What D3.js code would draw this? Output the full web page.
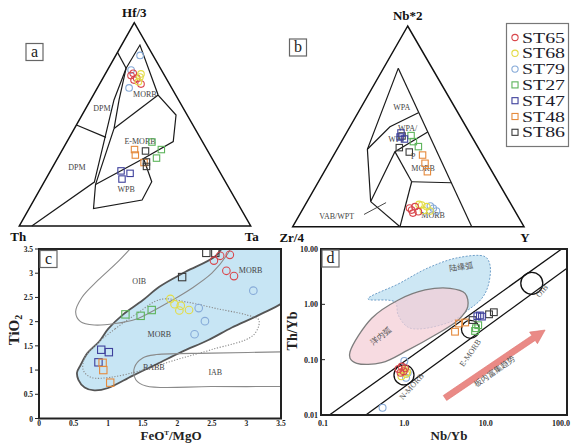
<!DOCTYPE html>
<html><head><meta charset="utf-8">
<script src="https://cdn.jsdelivr.net/npm/d3@7/dist/d3.min.js"></script>
<style>html,body{margin:0;padding:0;background:#fff}svg{display:block}</style>
</head><body>
<svg id="chart" width="571" height="443"></svg>
<script>
// ---------- sample groups ----------
const samples = ["ST65","ST68","ST79","ST27","ST47","ST48","ST86"];
const sampleColors = ["#d9474c","#e3dc45","#86aad8","#5db45b","#3e409c","#e58a3c","#3b3b3b"];
const sampleShapes = ["circle","circle","circle","square","square","square","square"];

// ---------- (a) Hf/3 - Th - Ta : [sample, Hf/3, Th, Ta] (%) ----------
const pointsA = [
  ["ST79",83.9,5.6,10.5],["ST79",76.7,13.1,10.2],["ST79",67.9,18.4,13.7],
  ["ST65",75.1,13.0,11.9],["ST65",72.7,12.7,14.6],["ST65",71.8,14.3,13.9],["ST65",69.8,12.3,17.9],["ST65",74.0,14.5,11.5],
  ["ST68",73.3,11.0,15.7],["ST68",71.0,12.8,16.2],["ST68",74.8,9.8,15.4],
  ["ST48",37.6,31.3,31.1],["ST48",34.9,32.3,32.8],["ST48",31.2,30.4,38.4],
  ["ST86",36.9,26.9,36.2],["ST86",31.5,29.2,39.3],["ST86",29.3,30.3,40.4],
  ["ST27",41.3,21.9,36.8],["ST27",37.6,19.7,42.7],["ST27",33.4,23.9,42.7],
  ["ST47",27.1,42.4,30.5],["ST47",25.9,39.1,35.0],["ST47",23.1,44.0,32.9]
];
// field boundaries, vertices as [Hf/3, Th, Ta]
const fieldLinesA = [
  [[85.4,14.6,0],[77.6,14.8,7.6]],
  [[77.6,14.8,7.6],[89,3.1,7.9],[64.4,7.6,28],[54.6,4.8,40.6],[41.5,12.6,45.9],[33.2,29.6,37.2],[20.4,56.8,22.8]],
  [[77.6,14.8,7.6],[62,27.9,10.1],[21.6,56.7,21.7],[0,94.6,5.4]],
  [[64.4,7.6,28],[48,34.9,17.1]],
  [[77.6,14.8,7.6],[62,25.7,12.3],[48,34.9,17.1],[20.4,56.8,22.8],[8.6,63.6,27.8],[12.8,40.5,46.7],[21.8,31.8,46.4],[33.2,29.6,37.2]],
  [[49.7,50.3,0],[43.6,40.6,15.8]]
];
const fieldLabelsA = [["DPM",58,35.1,6.9],["DPM",29,60.5,10.5],["MORB",64.9,13.1,22],["E-MORB",41.8,26.8,31.4],["WPB",18.2,44.7,37.1]];

// ---------- (b) Nb*2 - Zr/4 - Y : [sample, Nb*2, Zr/4, Y] (%) ----------
const pointsB = [
  ["ST86",39.4,34.1,26.5],["ST86",37.2,30.9,31.9],["ST86",45.2,30.0,24.8],
  ["ST27",42.4,26.5,31.1],["ST27",39.9,25.6,34.5],["ST27",45.4,26.0,28.6],
  ["ST47",44.7,31.1,24.2],["ST47",43.7,29.7,26.6],["ST47",46.7,29.7,23.6],
  ["ST48",35.7,25.9,38.4],["ST48",31.6,26.9,41.5],["ST48",27.4,28.0,44.6],
  ["ST79",9.2,34.6,56.2],["ST79",7.8,33.9,58.3],["ST79",10.3,35.3,54.4],
  ["ST68",10.8,38.8,50.4],["ST68",10.0,37.0,53.0],["ST68",8.1,39.4,52.5],["ST68",7.8,36.7,55.5],["ST68",11.1,39.8,49.1],
  ["ST65",8.3,44.4,47.3],["ST65",10.0,42.1,47.9],["ST65",7.5,41.9,50.6],["ST65",6.8,44.6,48.6],["ST65",9.3,44.8,45.9]
];
const fieldLinesB = [
  [[78.9,14.7,6.4],[0,22.6,77.4]],
  [[78.9,14.7,6.4],[38.6,48.3,13.1],[12.5,60,27.5]],
  [[56.8,17.1,26.1],[49.8,32.9,17.3],[38.6,48.3,13.1]],
  [[47.2,17.9,34.9],[37.4,37.0,25.6],[12.5,60,27.5]],
  [[37.4,37.0,25.6],[22.4,37.3,40.3]],
  [[22.4,37.3,40.3],[21.9,20.4,57.7]],
  [[22.4,37.3,40.3],[0,53.6,46.4]],
  [[12.5,60,27.5],[0,53.6,46.4]]
];
const fieldLabelsB = [["WPA",59.5,22.9,17.6],["WPA/",49,25.7,25.3],["WPT",43.5,33.2,23.3],["P",35.2,30.2,34.6],["MORB",29.1,29,41.9],["MORB",5.8,36.4,57.8],["VAB/WPT",5.1,78.4,16.5]];
const pointerB = [[6.1,66.1,27.8],[12,53.6,34.4]];

// ---------- (c) FeOT/MgO vs TiO2 ----------
const pointsC = [
  ["ST86",2.42,3.42],["ST86",2.55,3.42],["ST86",2.07,2.92],
  ["ST65",2.53,3.26],["ST65",2.62,3.36],["ST65",2.76,3.38],["ST65",2.71,3.05],["ST65",2.82,2.94],
  ["ST68",1.90,2.47],["ST68",1.96,2.36],["ST68",2.05,2.33],["ST68",2.03,2.23],["ST68",2.17,2.24],
  ["ST79",2.31,2.28],["ST79",2.40,2.01],["ST79",2.25,1.74],["ST79",3.10,2.64],
  ["ST27",1.25,2.15],["ST27",1.47,2.12],["ST27",1.63,2.24],
  ["ST47",0.90,1.42],["ST47",1.01,1.37],["ST47",0.86,1.16],
  ["ST48",0.92,1.15],["ST48",0.93,1.00],["ST48",1.03,0.74]
];
const ticksC = [0,0.5,1,1.5,2,2.5,3,3.5];
const morbFieldC = [[0.57,0.8],[0.66,0.64],[0.80,0.58],[1.0,0.63],[1.35,0.88],[1.7,1.12],[2.07,1.38],[2.45,1.62],[2.79,1.88],[3.2,2.15],[3.6,2.48],[3.75,3.0],[3.7,3.7],[2.8,3.75],[2.55,3.35],[2.12,3.03],[1.74,2.72],[1.5,2.44],[1.21,2.14],[1.0,1.85],[0.87,1.59],[0.7,1.35],[0.6,1.1],[0.55,0.95]];
const oibFieldC = [[1.38,3.6],[1.15,3.25],[0.85,2.85],[0.62,2.5],[0.53,2.2],[0.6,2.0],[0.8,1.93],[1.1,1.96],[1.4,2.05],[1.62,2.2],[1.9,2.42],[2.2,2.68],[2.5,3.0],[2.72,3.38],[2.8,3.6]];
const babbFieldC = [[0.84,1.55],[1.1,1.85],[1.4,2.15],[1.76,2.46],[2.15,2.4],[2.6,2.26],[3.0,2.14],[3.18,2.03],[3.1,1.72],[2.49,1.42],[2.0,1.22],[1.5,1.0],[1.03,0.85],[0.75,0.85],[0.64,1.0],[0.66,1.25]];
const iabFieldC = [[3.7,1.38],[2.5,1.35],[1.7,1.32],[1.5,1.25],[1.38,1.05],[1.4,0.8],[1.55,0.67],[2.5,0.66],[3.7,0.66]];
const fieldLabelsC = [["OIB",1.45,2.84],["MORB",3.06,3.07],["MORB",1.74,1.74],["BABB",1.66,1.07],["IAB",2.55,0.955]];

// ---------- (d) Nb/Yb vs Th/Yb ----------
const pointsD = [
  ["ST48",4.2,0.32],["ST48",4.7,0.45],["ST48",5.6,0.47],
  ["ST27",7.4,0.33],["ST27",8.1,0.42],["ST27",7.6,0.37],
  ["ST86",6.9,0.52],["ST86",11,0.66],["ST86",12.6,0.72],
  ["ST47",7.9,0.61],["ST47",9.0,0.60],["ST47",8.5,0.63],
  ["ST79",0.54,0.0135],["ST79",1.0,0.095],["ST79",1.1,0.058],["ST79",1.05,0.047],
  ["ST68",0.95,0.060],["ST68",1.05,0.055],["ST68",1.0,0.065],["ST68",0.92,0.050],["ST68",1.08,0.060],
  ["ST65",0.85,0.068],["ST65",0.93,0.075],["ST65",0.98,0.062],["ST65",0.90,0.058],["ST65",1.02,0.070]
];
const ticksDX = [0.1,1,10,100];
const tickLabelsDX = ["0.1","1.0","10.0","100.0"];
const ticksDY = [0.01,0.1,1,10];
const tickLabelsDY = ["0.01","0.10","1.00","10.00"];
const arrayLinesD = [[[0.12,0.01],[86,10]],[[0.336,0.01],[100,4.5]]];
const refCirclesD = [["N-MORB",0.99,0.053,10],["E-MORB",6.5,0.354,9],["OIB",36.9,2.4,11]];
const oceanArcD = [[0.215,0.139],[0.397,0.56],[0.844,1.2],[1.80,1.82],[3.65,1.95],[5.58,1.58],[6.03,0.906],[4.61,0.52],[2.39,0.279],[1.12,0.15],[0.527,0.088],[0.26,0.086],[0.215,0.106]];
const contArcD = [[0.358,1.25],[0.84,2.33],[1.95,4.54],[4.57,6.97],[9.84,7.26],[11.3,5.14],[10.8,2.24],[8.96,1.28],[6.08,0.79],[3.65,0.48],[1.17,0.373],[0.84,0.64],[0.77,1.10]];
const trendArrowD = [[3.16,0.0203],[53.8,0.343]];
const textLabelsD = [["N-MORB",1.25,0.032,-48],["E-MORB",6.6,0.13,-55],["OIB",50,1.7,-50],["板内富集趋势",13,0.06,-35],["洋内弧",0.52,0.26,-38],["陆缘弧",5.0,4.6,-8]];

// ---------- drawing ----------
const svg = d3.select("#chart");
const serif = "'Liberation Serif','DejaVu Serif',serif";
const cjk = "'Noto Sans CJK SC','Noto Sans CJK JP',sans-serif";
const colorOf = d3.scaleOrdinal(samples, sampleColors);
const shapeOf = d3.scaleOrdinal(samples, sampleShapes);

function marker(g, s, x, y, k) {
  k = k || 1;
  if (shapeOf(s) === "circle") {
    g.append("circle").attr("cx", x).attr("cy", y).attr("r", 3.3 * k)
      .attr("fill", "none").attr("stroke", colorOf(s)).attr("stroke-width", 1.1);
  } else {
    const h = 3.2 * k;
    g.append("rect").attr("x", x - h).attr("y", y - h).attr("width", 2 * h).attr("height", 2 * h)
      .attr("fill", "none").attr("stroke", colorOf(s)).attr("stroke-width", 1.1);
  }
}

function panelTag(x, y, letter) {
  svg.append("rect").attr("x", x).attr("y", y).attr("width", 17).attr("height", 17)
    .attr("fill", "#fff").attr("stroke", "#666").attr("stroke-width", 1.2);
  svg.append("text").attr("x", x + 8.5).attr("y", y + 13).attr("text-anchor", "middle")
    .attr("font-family", serif).attr("font-size", 16).attr("fill", "#222").text(letter);
}

// ternary projection built from linear scales on the two free components
function ternary(apex, left, right) {
  const tx = d3.scaleLinear([0, 100], [0, apex[0] - left[0]]);
  const ty = d3.scaleLinear([0, 100], [0, apex[1] - left[1]]);
  const rx = d3.scaleLinear([0, 100], [0, right[0] - left[0]]);
  const ry = d3.scaleLinear([0, 100], [0, right[1] - left[1]]);
  return (top, l, r) => {
    const s = (top + l + r) / 100;
    const t = top / s, q = r / s;
    return [left[0] + tx(t) + rx(q), left[1] + ty(t) + ry(q)];
  };
}

function drawTernary(corners, pts, lines, labels, names) {
  const [apex, left, right] = corners;
  const proj = ternary(apex, left, right);
  const g = svg.append("g");
  const line = d3.line();
  g.append("path").attr("d", line([apex, left, right]) + "Z")
    .attr("fill", "none").attr("stroke", "#111").attr("stroke-width", 1.5).attr("stroke-linejoin", "miter");
  lines.forEach(pl => {
    g.append("path").attr("d", line(pl.map(v => proj(v[0], v[1], v[2]))))
      .attr("fill", "none").attr("stroke", "#1a1a1a").attr("stroke-width", 1.2);
  });
  labels.forEach(([txt, a, b, c]) => {
    const p = proj(a, b, c);
    g.append("text").attr("x", p[0]).attr("y", p[1] + 3).attr("text-anchor", "middle")
      .attr("font-family", serif).attr("font-size", 8).attr("fill", "#444").text(txt);
  });
  const mg = g.append("g");
  pts.forEach(([s, a, b, c]) => { const p = proj(a, b, c); marker(mg, s, p[0], p[1]); });
  const nm = g.append("g").attr("font-family", serif).attr("font-weight", "bold")
    .attr("font-size", 13).attr("fill", "#111").attr("text-anchor", "middle");
  nm.append("text").attr("x", apex[0]).attr("y", apex[1] - 6).text(names[0]);
  nm.append("text").attr("x", left[0] - 1).attr("y", left[1] + 15).text(names[1]);
  nm.append("text").attr("x", right[0] + 1).attr("y", right[1] + 15).text(names[2]);
  return proj;
}

// (a)
drawTernary([[134.3, 22.7], [19.3, 226], [250.7, 226]], pointsA, fieldLinesA, fieldLabelsA, ["Hf/3", "Th", "Ta"]);
panelTag(26, 43.5, "a");

// (b)
const projB = drawTernary([[407.7, 26], [292.7, 226.7], [524, 226.7]], pointsB, fieldLinesB, fieldLabelsB, ["Nb*2", "Zr/4", "Y"]);
svg.append("path").attr("d", d3.line()(pointerB.map(v => projB(v[0], v[1], v[2]))))
  .attr("fill", "none").attr("stroke", "#333").attr("stroke-width", 0.9);
panelTag(289.5, 39, "b");

// legend
const lg = svg.append("g");
lg.append("rect").attr("x", 506.5).attr("y", 23.5).attr("width", 62).attr("height", 123)
  .attr("fill", "#fff").attr("stroke", "#777").attr("stroke-width", 1.2);
samples.forEach((s, i) => {
  const y = 37.5 + i * 15.8;
  marker(lg, s, 515, y, 0.95);
  lg.append("text").attr("x", 522).attr("y", y + 5).attr("font-family", serif)
    .attr("font-size", 15).attr("fill", "#1c1c2a").attr("textLength", 43)
    .attr("lengthAdjust", "spacingAndGlyphs").text(s);
});

// (c)
{
  const x = d3.scaleLinear([0, 3.5], [39, 281]);
  const y = d3.scaleLinear([0, 3.5], [418.5, 249]);
  const g = svg.append("g");
  g.append("clipPath").attr("id", "clipC").append("rect")
    .attr("x", 39).attr("y", 249).attr("width", 242).attr("height", 169.5);
  const fg = g.append("g").attr("clip-path", "url(#clipC)");
  const curveLine = d3.line().x(d => x(d[0])).y(d => y(d[1])).curve(d3.curveCatmullRom.alpha(0.5));
  const closed = d3.line().x(d => x(d[0])).y(d => y(d[1])).curve(d3.curveCatmullRomClosed.alpha(0.5));
  fg.append("path").attr("d", closed(morbFieldC)).attr("fill", "#c7e5f4")
    .attr("stroke", "#555").attr("stroke-width", 1.8);
  fg.append("path").attr("d", curveLine(oibFieldC)).attr("fill", "none")
    .attr("stroke", "#8a8a8a").attr("stroke-width", 1.1);
  fg.append("path").attr("d", closed(babbFieldC)).attr("fill", "none")
    .attr("stroke", "#8a8a8a").attr("stroke-width", 1.1).attr("stroke-dasharray", "1.2,1.6");
  fg.append("path").attr("d", curveLine(iabFieldC)).attr("fill", "none")
    .attr("stroke", "#8a8a8a").attr("stroke-width", 1.1);
  fieldLabelsC.forEach(([t, a, b]) => {
    g.append("text").attr("x", x(a)).attr("y", y(b) + 3).attr("text-anchor", "middle")
      .attr("font-family", serif).attr("font-size", 8).attr("fill", "#444").text(t);
  });
  const mg = g.append("g");
  pointsC.forEach(([s, a, b]) => marker(mg, s, x(a), y(b), 1.15));
  g.append("rect").attr("x", 39).attr("y", 249).attr("width", 242).attr("height", 169.5)
    .attr("fill", "none").attr("stroke", "#222").attr("stroke-width", 2);
  const ax = g.append("g").attr("font-family", serif).attr("font-weight", "bold")
    .attr("font-size", 7.5).attr("fill", "#222");
  ticksC.forEach(v => {
    ax.append("text").attr("x", x(v)).attr("y", 425.5).attr("text-anchor", "middle").text(v);
    ax.append("text").attr("x", 33).attr("y", y(v) + 3).attr("text-anchor", "end").text(v);
    ax.append("line").attr("x1", 35).attr("x2", 39).attr("y1", y(v)).attr("y2", y(v)).attr("stroke", "#222");
  });
  const tt = g.append("text").attr("transform", "translate(19,330) rotate(-90)")
    .attr("text-anchor", "middle").attr("font-family", serif).attr("font-weight", "bold")
    .attr("font-size", 15).attr("fill", "#222");
  tt.append("tspan").text("TiO");
  tt.append("tspan").attr("font-size", 10).attr("dy", 3).text("2");
  const xt = g.append("text").attr("x", 171).attr("y", 440).attr("text-anchor", "middle")
    .attr("font-family", serif).attr("font-weight", "bold").attr("font-size", 13).attr("fill", "#222");
  xt.append("tspan").text("FeO");
  xt.append("tspan").attr("font-size", 7).attr("dy", -5).text("T");
  xt.append("tspan").attr("dy", 5).text("/MgO");
  panelTag(40, 250.5, "c");
}

// (d)
{
  const x = d3.scaleLog([0.1, 100], [323, 567]);
  const y = d3.scaleLog([0.01, 10], [415, 249]);
  const g = svg.append("g");
  g.append("clipPath").attr("id", "clipD").append("rect")
    .attr("x", 321).attr("y", 249).attr("width", 246).attr("height", 166);
  const fg = g.append("g").attr("clip-path", "url(#clipD)");
  const closed = d3.line().x(d => x(d[0])).y(d => y(d[1])).curve(d3.curveCatmullRomClosed.alpha(0.5));
  fg.append("path").attr("d", closed(contArcD)).attr("fill", "#cde7f4")
    .attr("stroke", "#6f9fc9").attr("stroke-width", 1).attr("stroke-dasharray", "2,1.5");
  fg.append("path").attr("d", closed(oceanArcD)).attr("fill", "#f4cdd5").attr("fill-opacity", 0.72)
    .attr("stroke", "#7d7d7d").attr("stroke-width", 1.3);
  arrayLinesD.forEach(l => {
    fg.append("line").attr("x1", x(l[0][0])).attr("y1", y(l[0][1])).attr("x2", x(l[1][0])).attr("y2", y(l[1][1]))
      .attr("stroke", "#111").attr("stroke-width", 1.3);
  });
  refCirclesD.forEach(([n, a, b, r]) => {
    fg.append("circle").attr("cx", x(a)).attr("cy", y(b)).attr("r", r)
      .attr("fill", "none").attr("stroke", "#111").attr("stroke-width", 1.3);
  });
  // enrichment trend arrow
  {
    const p0 = [x(trendArrowD[0][0]), y(trendArrowD[0][1])];
    const p1 = [x(trendArrowD[1][0]), y(trendArrowD[1][1])];
    const ang = Math.atan2(p1[1] - p0[1], p1[0] - p0[0]);
    const len = Math.hypot(p1[0] - p0[0], p1[1] - p0[1]);
    const sw = 3, hw = 7, hl = 14;
    const shape = [[0, -sw], [len - hl, -sw], [len - hl, -hw], [len, 0], [len - hl, hw], [len - hl, sw], [0, sw]];
    fg.append("path").attr("d", d3.line()(shape) + "Z")
      .attr("transform", `translate(${p0[0]},${p0[1]}) rotate(${ang * 180 / Math.PI})`)
      .attr("fill", "#ea8a86").attr("stroke", "#e07a76").attr("stroke-width", 0.6);
  }
  textLabelsD.forEach(([t, a, b, rot]) => {
    const cj = /[\u4e00-\u9fff]/.test(t);
    fg.append("text").attr("transform", `translate(${x(a)},${y(b)}) rotate(${rot})`)
      .attr("text-anchor", "middle").attr("dominant-baseline", "middle")
      .attr("font-family", cj ? cjk : serif).attr("font-size", 8).attr("fill", "#555").text(t);
  });
  const mg = fg.append("g");
  pointsD.forEach(([s, a, b]) => marker(mg, s, x(a), y(b), 1.05));
  g.append("rect").attr("x", 321).attr("y", 249).attr("width", 246).attr("height", 166)
    .attr("fill", "none").attr("stroke", "#222").attr("stroke-width", 2);
  const ax = g.append("g").attr("font-family", serif).attr("font-weight", "bold")
    .attr("font-size", 8).attr("fill", "#222");
  ticksDX.forEach((v, i) => {
    const last = i === ticksDX.length - 1;
    ax.append("text").attr("x", last ? 570 : x(v)).attr("y", 425.5)
      .attr("text-anchor", last ? "end" : "middle").text(tickLabelsDX[i]);
  });
  ticksDY.forEach((v, i) => {
    ax.append("text").attr("x", 318).attr("y", y(v) + 3).attr("text-anchor", "end").text(tickLabelsDY[i]);
    ax.append("line").attr("x1", 321).attr("x2", 325).attr("y1", y(v)).attr("y2", y(v)).attr("stroke", "#222");
  });
  g.append("text").attr("transform", "translate(297,331) rotate(-90)").attr("text-anchor", "middle")
    .attr("font-family", serif).attr("font-weight", "bold").attr("font-size", 14).attr("fill", "#222").text("Th/Yb");
  g.append("text").attr("x", 449).attr("y", 440).attr("text-anchor", "middle")
    .attr("font-family", serif).attr("font-weight", "bold").attr("font-size", 13).attr("fill", "#222").text("Nb/Yb");
  panelTag(322, 250, "d");
}
</script>
</body></html>
